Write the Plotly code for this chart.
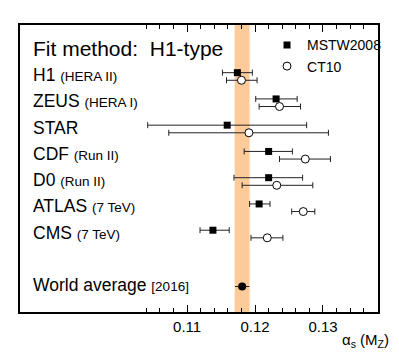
import plotly.graph_objects as go

# alpha_s(M_Z) fits, H1-type method
experiments = ["H1", "ZEUS", "STAR", "CDF", "D0", "ATLAS", "CMS"]
details = ["(HERA II)", "(HERA I)", "", "(Run II)", "(Run II)", "(7 TeV)", "(7 TeV)"]
rows = [1, 2, 3, 4, 5, 6, 7]

mstw = [0.1174, 0.1231, 0.1159, 0.1220, 0.1220, 0.1206, 0.1138]
mstw_lo = [0.1152, 0.1201, 0.1042, 0.1184, 0.1169, 0.1192, 0.1119]
mstw_hi = [0.1196, 0.1262, 0.1276, 0.1255, 0.1270, 0.1222, 0.1162]

ct10 = [0.1180, 0.1236, 0.1191, 0.1274, 0.1232, 0.1271, 0.1218]
ct10_lo = [0.1158, 0.1206, 0.1073, 0.1236, 0.1181, 0.1254, 0.1194]
ct10_hi = [0.1203, 0.1267, 0.1308, 0.1311, 0.1285, 0.1288, 0.1241]

world_row = 9
world_val = 0.1181
world_lo = 0.11705
world_hi = 0.11916
band = (0.1170, 0.1192)

major_ticks = [0.11, 0.12, 0.13]
tick_text = ["0.11", "0.12", "0.13"]
minor_ticks = [0.104, 0.106, 0.108, 0.112, 0.114, 0.116, 0.118,
               0.122, 0.124, 0.126, 0.128, 0.132, 0.134, 0.136]

FONT = "Liberation Sans, Arial, Helvetica, sans-serif"
offset = 0.145

fig = go.Figure()

fig.add_trace(go.Scatter(
    x=mstw,
    y=[r - offset for r in rows],
    mode="markers",
    name="MSTW2008",
    marker=dict(symbol="square", size=7, color="black"),
    error_x=dict(type="data", symmetric=False,
                 array=[h - v for h, v in zip(mstw_hi, mstw)],
                 arrayminus=[v - l for v, l in zip(mstw, mstw_lo)],
                 color="#222222", thickness=1, width=3),
))

fig.add_trace(go.Scatter(
    x=ct10,
    y=[r + offset for r in rows],
    mode="markers",
    name="CT10",
    marker=dict(symbol="circle", size=8, color="white",
                line=dict(color="black", width=1)),
    error_x=dict(type="data", symmetric=False,
                 array=[h - v for h, v in zip(ct10_hi, ct10)],
                 arrayminus=[v - l for v, l in zip(ct10, ct10_lo)],
                 color="#222222", thickness=1, width=3),
))

fig.add_trace(go.Scatter(
    x=[world_val],
    y=[world_row],
    mode="markers",
    showlegend=False,
    marker=dict(symbol="circle", size=8, color="black"),
    error_x=dict(type="data", symmetric=False,
                 array=[world_hi - world_val],
                 arrayminus=[world_val - world_lo],
                 color="#222222", thickness=1, width=0),
))

# world average band
fig.add_shape(type="rect", xref="x", yref="paper",
              x0=band[0], x1=band[1], y0=0, y1=1,
              fillcolor="rgb(253,202,153)", line_width=0, layer="below")

# row labels
for name, det, r in zip(experiments, details, rows):
    txt = name if not det else f"{name} <span style='font-size:13.5px'>{det}</span>"
    fig.add_annotation(x=0.03, xref="paper", y=r - 0.05, yref="y",
                       text=txt, showarrow=False, xanchor="left", yanchor="middle",
                       font=dict(size=17.5, color="black", family=FONT))

fig.add_annotation(x=0.03, xref="paper", y=world_row - 0.05, yref="y",
                   text="World average <span style='font-size:13.5px'>[2016]</span>",
                   showarrow=False, xanchor="left", yanchor="middle",
                   font=dict(size=17.5, color="black", family=FONT))

fig.add_annotation(x=0.03, xref="paper", y=-0.06, yref="y",
                   text="Fit method:&nbsp; H1-type", showarrow=False,
                   xanchor="left", yanchor="middle",
                   font=dict(size=21, color="black", family=FONT))

fig.add_annotation(x=0.895, xref="paper", y=-0.1, yref="paper",
                   text="α<sub>s</sub> (M<sub>Z</sub>)", showarrow=False,
                   xanchor="left", yanchor="middle",
                   font=dict(size=15, color="black", family=FONT))

fig.update_xaxes(
    range=[0.0854, 0.1381],
    tickvals=major_ticks, ticktext=tick_text,
    ticks="inside", ticklen=7, tickwidth=1, tickcolor="black",
    minor=dict(tickvals=minor_ticks, ticks="inside", ticklen=4,
               tickwidth=1, tickcolor="black", showgrid=False),
    showline=True, linecolor="black", linewidth=1.5, mirror="ticks",
    showgrid=False, zeroline=False,
    tickfont=dict(size=15, color="black", family=FONT),
)
fig.update_yaxes(
    range=[9.97, -0.96],
    showticklabels=False, ticks="",
    showline=True, linecolor="black", linewidth=1.5, mirror=True,
    showgrid=False, zeroline=False,
)

# page body has an 8px margin, so the figure is sized 8px smaller
fig.update_layout(
    width=391, height=354,
    margin=dict(l=12, r=21, t=17, b=49.5),
    plot_bgcolor="white", paper_bgcolor="white",
    font=dict(family=FONT, color="black"),
    showlegend=True,
    legend=dict(x=0.69, y=0.985, xanchor="left", yanchor="top",
                bgcolor="rgba(0,0,0,0)", borderwidth=0,
                font=dict(size=14, color="black", family=FONT),
                itemwidth=30, tracegroupgap=0),
)

fig.write_html("out.html")
